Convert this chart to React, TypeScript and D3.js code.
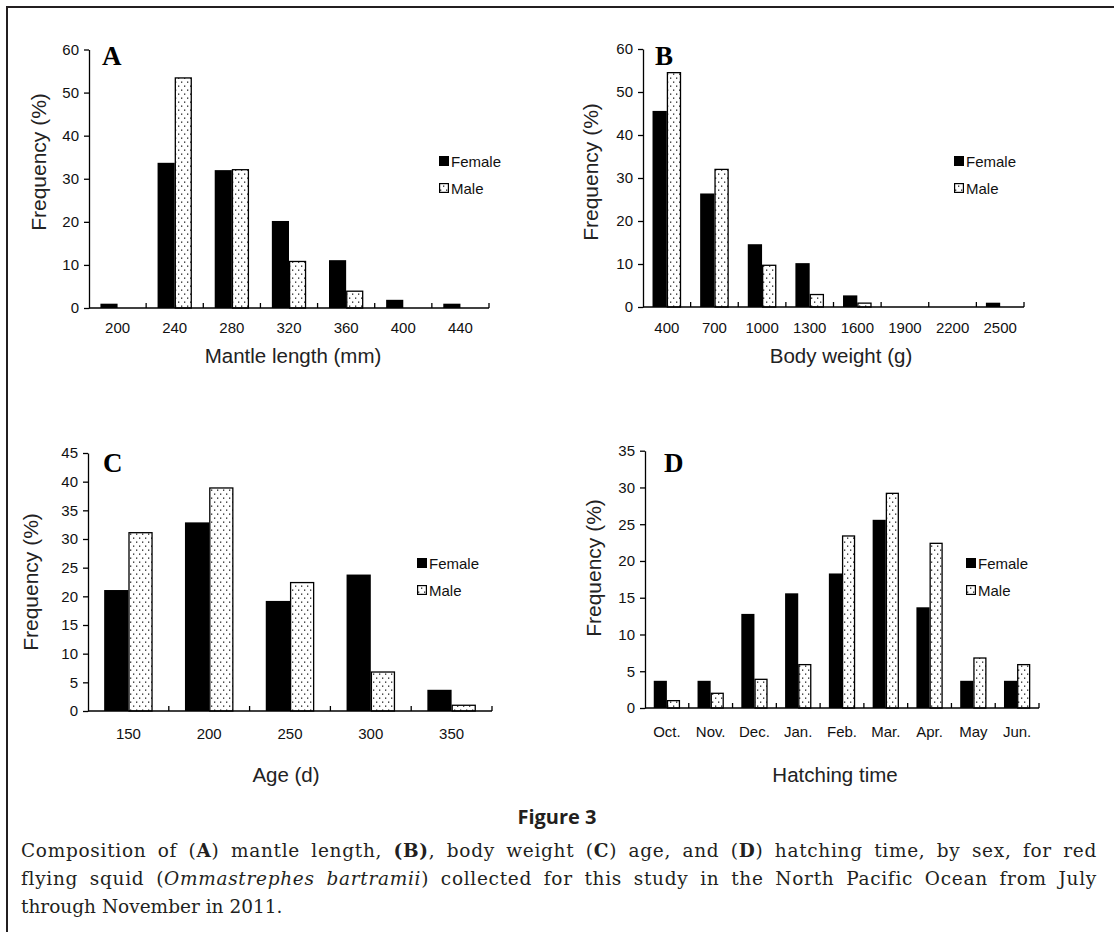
import React, { useEffect, useRef } from "react";
import * as d3 from "d3";

// series names
const sexes = ["Female", "Male"];

// A: mantle length (mm)
const mantleCats = ["200", "240", "280", "320", "360", "400", "440"];
const mantleFemale = [1, 33.7, 32, 20.2, 11.1, 1.9, 1];
const mantleMale = [0, 53.4, 32.1, 10.8, 3.9, 0, 0];

// B: body weight (g)
const weightCats = ["400", "700", "1000", "1300", "1600", "1900", "2200", "2500"];
const weightFemale = [45.6, 26.4, 14.6, 10.2, 2.7, 0, 0, 1];
const weightMale = [54.5, 32, 9.7, 2.9, 0.9, 0, 0, 0];

// C: age (d)
const ageCats = ["150", "200", "250", "300", "350"];
const ageFemale = [21.1, 32.9, 19.2, 23.8, 3.7];
const ageMale = [31.1, 38.9, 22.4, 6.8, 1.0];

// D: hatching time
const monthCats = ["Oct.", "Nov.", "Dec.", "Jan.", "Feb.", "Mar.", "Apr.", "May", "Jun."];
const monthFemale = [3.7, 3.7, 12.8, 15.6, 18.3, 25.6, 13.7, 3.7, 3.7];
const monthMale = [1.0, 2.0, 3.9, 5.9, 23.4, 29.2, 22.4, 6.8, 5.9];

const SANS = "'Liberation Sans', Arial, sans-serif";
const SERIF = "'Liberation Serif', 'Times New Roman', serif";
const CAPTION = "'DejaVu Serif', serif";

// layout of the four panels
const panels = [
  {
    label: "A", cats: mantleCats, female: mantleFemale, male: mantleMale,
    ymax: 60, ystep: 10, x0: 89, x1: 489, top: 49.5, bottom: 308,
    xTitle: "Mantle length (mm)", xTitleX: 293, xTitleY: 363, tickY: 333,
    yTitleX: 46, yTitleY: 162, legX: 439, legY: 161, labX: 102, labY: 65,
  },
  {
    label: "B", cats: weightCats, female: weightFemale, male: weightMale,
    ymax: 60, ystep: 10, x0: 643, x1: 1024, top: 49, bottom: 307,
    xTitle: "Body weight (g)", xTitleX: 841, xTitleY: 363, tickY: 333,
    yTitleX: 598, yTitleY: 172, legX: 954, legY: 161, labX: 655, labY: 65,
  },
  {
    label: "C", cats: ageCats, female: ageFemale, male: ageMale,
    ymax: 45, ystep: 5, x0: 88, x1: 492, top: 453, bottom: 711,
    xTitle: "Age (d)", xTitleX: 286, xTitleY: 782, tickY: 739,
    yTitleX: 38, yTitleY: 582, legX: 417, legY: 563, labX: 103, labY: 472,
  },
  {
    label: "D", cats: monthCats, female: monthFemale, male: monthMale,
    ymax: 35, ystep: 5, x0: 645, x1: 1039, top: 450.7, bottom: 708,
    xTitle: "Hatching time", xTitleX: 835, xTitleY: 782, tickY: 737,
    yTitleX: 601, yTitleY: 568, legX: 966, legY: 563, labX: 664, labY: 472,
  },
];

function drawPanel(svg: any, p: any) {
  const g = svg.append("g");

  const x = d3.scaleBand().domain(p.cats).range([p.x0, p.x1]).paddingInner(0.4).paddingOuter(0.2);
  const sub = d3.scaleBand().domain(sexes).range([0, x.bandwidth()]);
  const y = d3.scaleLinear().domain([0, p.ymax]).range([p.bottom, p.top]);

  const rows = p.cats.map((c: string, i: number) => ({ cat: c, Female: p.female[i], Male: p.male[i] }));

  // female bars
  g.selectAll(".f")
    .data(rows.filter((d: any) => d.Female > 0))
    .join("rect")
    .attr("x", (d: any) => x(d.cat)! + sub("Female")!)
    .attr("y", (d: any) => y(d.Female))
    .attr("width", sub.bandwidth())
    .attr("height", (d: any) => y(0) - y(d.Female))
    .attr("fill", "#000");

  // male bars (dotted)
  g.selectAll(".m")
    .data(rows.filter((d: any) => d.Male > 0))
    .join("rect")
    .attr("x", (d: any) => x(d.cat)! + sub("Male")! + 0.6)
    .attr("y", (d: any) => y(d.Male))
    .attr("width", sub.bandwidth() - 1.2)
    .attr("height", (d: any) => y(0) - y(d.Male))
    .attr("fill", "url(#dots)")
    .attr("stroke", "#000")
    .attr("stroke-width", 1.3);

  // y axis
  const yAxis = g.append("g")
    .attr("transform", `translate(${p.x0},0)`)
    .call(
      d3.axisLeft(y)
        .tickValues(d3.range(0, p.ymax + 1, p.ystep))
        .tickSize(5)
        .tickSizeOuter(0)
        .tickPadding(5)
    );
  yAxis.selectAll("path, line").attr("stroke", "#000").attr("stroke-width", 1.3);
  yAxis.selectAll("text").attr("fill", "#111").style("font-size", "15px").style("font-family", SANS);

  // x axis line with ticks at band edges
  g.append("line")
    .attr("x1", p.x0).attr("x2", p.x1)
    .attr("y1", y(0)).attr("y2", y(0))
    .attr("stroke", "#000").attr("stroke-width", 1.5);
  g.selectAll(".xt")
    .data(d3.range(1, p.cats.length + 1))
    .join("line")
    .attr("x1", (i: number) => p.x0 + i * x.step())
    .attr("x2", (i: number) => p.x0 + i * x.step())
    .attr("y1", y(0)).attr("y2", y(0) - 5)
    .attr("stroke", "#000").attr("stroke-width", 1.3);

  g.selectAll(".xl")
    .data(p.cats)
    .join("text")
    .attr("x", (c: string) => x(c)! + x.bandwidth() / 2)
    .attr("y", p.tickY)
    .attr("text-anchor", "middle")
    .style("font-size", "15px")
    .style("font-family", SANS)
    .attr("fill", "#111")
    .text((c: string) => c);

  // axis titles
  g.append("text")
    .attr("x", p.xTitleX).attr("y", p.xTitleY)
    .attr("text-anchor", "middle")
    .style("font-size", "20.5px").style("font-family", SANS)
    .attr("fill", "#222")
    .text(p.xTitle);
  g.append("text")
    .attr("transform", `translate(${p.yTitleX},${p.yTitleY}) rotate(-90)`)
    .attr("text-anchor", "middle")
    .style("font-size", "21px").style("font-family", SANS)
    .attr("fill", "#222")
    .text("Frequency (%)");

  // panel letter
  g.append("text")
    .attr("x", p.labX).attr("y", p.labY)
    .style("font-size", "27px").style("font-family", SERIF).style("font-weight", "bold")
    .text(p.label);

  // legend
  const leg = g.append("g").attr("transform", `translate(${p.legX},${p.legY})`);
  sexes.forEach((s, i) => {
    const row = leg.append("g").attr("transform", `translate(0,${i * 27})`);
    row.append("rect")
      .attr("x", i ? 0.6 : 0).attr("y", i ? -4.4 : -5)
      .attr("width", i ? 8.8 : 10).attr("height", i ? 8.8 : 10)
      .attr("fill", i ? "url(#dots)" : "#000")
      .attr("stroke", i ? "#000" : "none")
      .attr("stroke-width", 1.2);
    row.append("text")
      .attr("x", 12).attr("y", 5.5)
      .style("font-size", "15px").style("font-family", SANS)
      .attr("fill", "#111")
      .text(s);
  });
}

// justify a caption line: a little letter spacing, the rest into word gaps
function justify(line: any, width: number) {
  const node = line.node() as SVGTextContentElement;
  const spaces = (node.textContent || "").split(" ").length - 1;
  line.attr("letter-spacing", 0.7);
  const natural = node.getComputedTextLength();
  if (natural < width && spaces > 0) {
    line.attr("word-spacing", (width - natural) / spaces);
  }
}

const App = () => {
  const ref = useRef<SVGSVGElement>(null);

  useEffect(() => {
    const svg = d3.select(ref.current);
    svg.selectAll("*").remove();

    const defs = svg.append("defs");
    const pat = defs.append("pattern")
      .attr("id", "dots")
      .attr("patternUnits", "userSpaceOnUse")
      .attr("width", 6).attr("height", 8);
    pat.append("rect").attr("width", 6).attr("height", 8).attr("fill", "#fff");
    pat.append("rect").attr("x", 1).attr("y", 1.5).attr("width", 1.3).attr("height", 1.3).attr("fill", "#222");
    pat.append("rect").attr("x", 4).attr("y", 5.5).attr("width", 1.3).attr("height", 1.3).attr("fill", "#222");

    // frame
    svg.append("path")
      .attr("d", "M7,932 V7 H1114")
      .attr("fill", "none")
      .attr("stroke", "#231f20")
      .attr("stroke-width", 2);

    panels.forEach((p) => drawPanel(svg, p));

    // figure title
    svg.append("text")
      .attr("x", 557).attr("y", 824)
      .attr("text-anchor", "middle")
      .style("font-family", "'Open Sans', sans-serif")
      .style("font-weight", "bold")
      .style("font-size", "20px")
      .attr("fill", "#231f20")
      .text("Figure 3");

    // caption
    const capStyle = (t: any) =>
      t.style("font-family", CAPTION).style("font-size", "18.5px").attr("fill", "#231f20");

    const l1 = capStyle(svg.append("text").attr("x", 21).attr("y", 857));
    const parts1: [string, boolean][] = [
      ["Composition of (", false], ["A", true], [") mantle length, ", false], ["(B)", true],
      [", body weight (", false], ["C", true], [") age, and (", false], ["D", true],
      [") hatching time, by sex, for red", false],
    ];
    parts1.forEach(([t, b]) => l1.append("tspan").style("font-weight", b ? "bold" : "normal").text(t));
    justify(l1, 1076);

    const l2 = capStyle(svg.append("text").attr("x", 21).attr("y", 885));
    l2.append("tspan").text("flying squid (");
    l2.append("tspan").style("font-style", "italic").text("Ommastrephes bartramii");
    l2.append("tspan").text(") collected for this study in the North Pacific Ocean from July");
    justify(l2, 1076);

    capStyle(svg.append("text").attr("x", 21).attr("y", 913)).text("through November in 2011.");
  }, []);

  return (
    <svg
      ref={ref}
      width={1114}
      height={932}
      style={{ position: "absolute", left: 0, top: 0, background: "#fff" }}
    />
  );
};

export default App;
